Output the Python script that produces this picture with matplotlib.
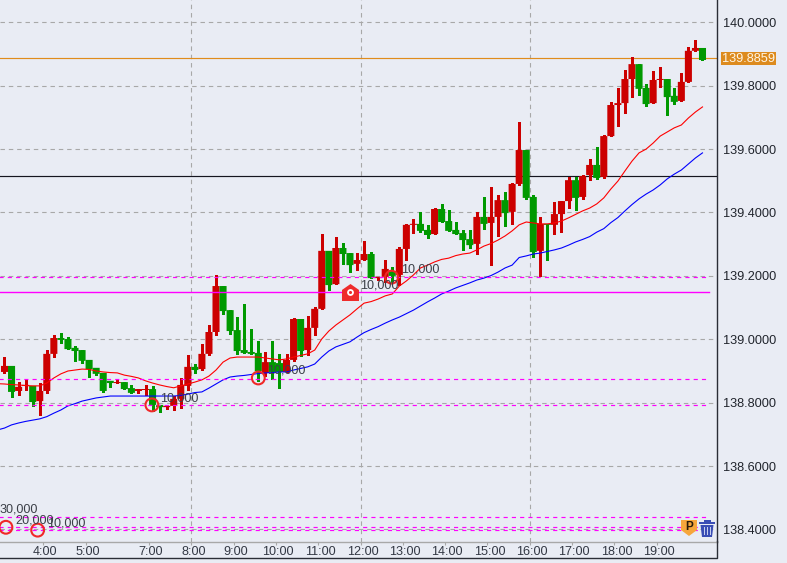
import matplotlib
matplotlib.use("Agg")
import matplotlib.pyplot as plt
import numpy as np
from matplotlib.patches import Polygon, Rectangle

plt.rcParams["font.family"] = ["Liberation Sans", "DejaVu Sans"]

# 10 minute candles, oldest first
opens = [138.897, 138.916, 138.837, 138.853, 138.853, 138.805, 138.837, 138.954, 139.004, 139.001,
         138.973, 138.966, 138.935, 138.910, 138.894, 138.869, 138.862, 138.865, 138.846, 138.837,
         138.840, 138.843, 138.793, 138.786, 138.790, 138.812, 138.853, 138.913, 138.906, 138.954,
         139.023, 139.168, 139.092, 139.029, 138.966, 138.960, 138.957, 138.894, 138.928, 138.925,
         138.897, 138.935, 139.064, 138.966, 139.036, 139.096, 139.279, 139.174, 139.288, 139.272,
         139.238, 139.250, 139.269, 139.193, 139.197, 139.215, 139.203, 139.285, 139.361, 139.364,
         139.345, 139.332, 139.411, 139.373, 139.345, 139.335, 139.316, 139.301, 139.386, 139.367,
         139.386, 139.439, 139.402, 139.490, 139.597, 139.449, 139.279, 139.364, 139.361, 139.395,
         139.436, 139.502, 139.449, 139.518, 139.550, 139.512, 139.641, 139.739, 139.745, 139.821,
         139.868, 139.793, 139.745, 139.818, 139.821, 139.768, 139.752, 139.812, 139.910, 139.919]
highs = [138.944, 138.916, 138.865, 138.872, 138.853, 138.862, 138.966, 139.014, 139.020, 139.007,
         138.979, 138.966, 138.935, 138.910, 138.894, 138.869, 138.872, 138.865, 138.856, 138.843,
         138.856, 138.853, 138.793, 138.793, 138.821, 138.878, 138.950, 138.922, 138.985, 139.045,
         139.203, 139.168, 139.092, 139.070, 139.111, 139.033, 138.995, 138.960, 138.995, 138.954,
         138.954, 139.067, 139.064, 139.073, 139.102, 139.332, 139.279, 139.323, 139.304, 139.272,
         139.272, 139.310, 139.275, 139.197, 139.250, 139.228, 139.291, 139.364, 139.379, 139.402,
         139.361, 139.414, 139.427, 139.408, 139.370, 139.345, 139.345, 139.402, 139.449, 139.480,
         139.455, 139.465, 139.493, 139.685, 139.597, 139.455, 139.386, 139.364, 139.433, 139.436,
         139.512, 139.512, 139.518, 139.569, 139.607, 139.644, 139.749, 139.793, 139.850, 139.891,
         139.868, 139.805, 139.846, 139.859, 139.821, 139.793, 139.840, 139.922, 139.944, 139.919]
lows = [138.894, 138.818, 138.824, 138.840, 138.790, 138.761, 138.831, 138.944, 138.988, 138.969,
        138.932, 138.925, 138.881, 138.887, 138.834, 138.850, 138.862, 138.843, 138.831, 138.831,
        138.824, 138.774, 138.771, 138.780, 138.777, 138.783, 138.840, 138.894, 138.903, 138.950,
        139.014, 139.080, 139.017, 138.954, 138.957, 138.954, 138.869, 138.884, 138.875, 138.846,
        138.897, 138.932, 138.947, 138.950, 139.014, 139.096, 139.155, 139.174, 139.238, 139.212,
        139.219, 139.250, 139.193, 139.187, 139.181, 139.181, 139.171, 139.250, 139.335, 139.338,
        139.320, 139.332, 139.370, 139.342, 139.332, 139.282, 139.288, 139.269, 139.348, 139.234,
        139.326, 139.357, 139.364, 139.487, 139.443, 139.260, 139.200, 139.250, 139.332, 139.338,
        139.414, 139.408, 139.443, 139.502, 139.506, 139.509, 139.641, 139.673, 139.714, 139.764,
        139.771, 139.736, 139.745, 139.796, 139.708, 139.742, 139.752, 139.812, 139.910, 139.881]
closes = [138.916, 138.834, 138.850, 138.856, 138.802, 138.837, 138.954, 139.004, 138.998, 138.969,
          138.963, 138.932, 138.906, 138.891, 138.837, 138.862, 138.865, 138.843, 138.831, 138.843,
          138.843, 138.793, 138.786, 138.790, 138.812, 138.856, 138.913, 138.903, 138.954, 139.023,
          139.168, 139.089, 139.026, 138.963, 138.957, 138.954, 138.900, 138.928, 138.897, 138.897,
          138.935, 139.064, 138.963, 139.036, 139.096, 139.279, 139.171, 139.288, 139.269, 139.234,
          139.250, 139.269, 139.193, 139.197, 139.222, 139.200, 139.285, 139.361, 139.364, 139.342,
          139.329, 139.411, 139.370, 139.342, 139.332, 139.313, 139.297, 139.386, 139.364, 139.386,
          139.439, 139.398, 139.490, 139.597, 139.446, 139.275, 139.364, 139.361, 139.395, 139.436,
          139.502, 139.446, 139.515, 139.550, 139.509, 139.641, 139.739, 139.745, 139.821, 139.868,
          139.790, 139.742, 139.818, 139.821, 139.764, 139.749, 139.812, 139.910, 139.919, 139.881]

# moving averages, they start one candle before the first full candle
ma_fast = [138.860, 138.859, 138.857, 138.856, 138.854, 138.853, 138.853, 138.862, 138.878, 138.891,
           138.900, 138.903, 138.906, 138.905, 138.900, 138.897, 138.895, 138.894, 138.887, 138.883,
           138.878, 138.869, 138.862, 138.856, 138.851, 138.847, 138.853, 138.859, 138.865, 138.872,
           138.884, 138.903, 138.928, 138.941, 138.944, 138.944, 138.944, 138.944, 138.941, 138.938,
           138.935, 138.938, 138.944, 138.949, 138.954, 138.966, 139.001, 139.026, 139.045, 139.061,
           139.077, 139.096, 139.114, 139.119, 139.127, 139.137, 139.143, 139.168, 139.184, 139.203,
           139.225, 139.234, 139.244, 139.252, 139.256, 139.264, 139.269, 139.272, 139.282, 139.294,
           139.302, 139.313, 139.326, 139.342, 139.361, 139.370, 139.367, 139.364, 139.364, 139.367,
           139.373, 139.383, 139.394, 139.405, 139.414, 139.427, 139.446, 139.474, 139.499, 139.531,
           139.562, 139.588, 139.600, 139.619, 139.641, 139.654, 139.667, 139.676, 139.698, 139.717,
           139.733]
ma_slow = [138.714, 138.720, 138.730, 138.736, 138.741, 138.745, 138.749, 138.756, 138.767, 138.777,
           138.790, 138.797, 138.805, 138.810, 138.815, 138.818, 138.821, 138.821, 138.821, 138.821,
           138.821, 138.821, 138.821, 138.821, 138.821, 138.821, 138.823, 138.827, 138.832, 138.834,
           138.846, 138.859, 138.872, 138.881, 138.884, 138.886, 138.889, 138.892, 138.894, 138.895,
           138.897, 138.897, 138.903, 138.908, 138.913, 138.922, 138.944, 138.963, 138.976, 138.984,
           138.992, 139.007, 139.021, 139.031, 139.040, 139.051, 139.061, 139.070, 139.081, 139.092,
           139.105, 139.118, 139.130, 139.143, 139.152, 139.162, 139.170, 139.178, 139.187, 139.193,
           139.201, 139.212, 139.225, 139.234, 139.258, 139.263, 139.269, 139.272, 139.277, 139.282,
           139.288, 139.297, 139.307, 139.315, 139.324, 139.338, 139.349, 139.368, 139.384, 139.405,
           139.425, 139.443, 139.458, 139.471, 139.487, 139.506, 139.521, 139.534, 139.553, 139.572,
           139.588]

hour_pos = [5.5, 11.5, 20.5, 26.5, 32.5, 38.5, 44.5, 50.5, 56.5, 62.5, 68.5, 74.5, 80.5, 86.5, 92.5]
hour_labels = ["4:00", "5:00", "7:00", "8:00", "9:00", "10:00", "11:00", "12:00", "13:00", "14:00",
               "15:00", "16:00", "17:00", "18:00", "19:00"]
day_pos = [26.5, 50.5, 74.5]
price_ticks = [138.4, 138.6, 138.8, 139.0, 139.2, 139.4, 139.6, 139.8, 140.0]

last_price = 139.8859
black_level = 139.5166
pink_solid = 139.148
pink_dashed = [139.196, 138.875, 138.793, 138.438, 138.407, 138.398]

order_pos = [0.2, 4.7, 20.9, 36.0, 54.9]
order_price = [138.407, 138.398, 138.793, 138.878, 139.196]
order_text = [(-0.65, 138.462, "30,000"), (1.5, 138.428, "20,000"), (6.0, 138.418, "10,000"),
              (22.1, 138.814, "10,000"), (37.3, 138.900, "10,000"), (50.4, 139.171, "10,000"),
              (56.3, 139.219, "10,000")]
alert_pos = 49.0

BG = "#E9ECF4"
RED = "#CC0000"
GREEN = "#009900"
GRAY = "#A8A8A8"
PINK = "#FF00FF"
W, H = 787, 563

fig = plt.figure(figsize=(W / 100, H / 100), dpi=100, facecolor=BG)
ax = fig.add_axes([0, (H - 541.7) / H, 717.3 / W, 541.7 / H], facecolor=BG)

opens = np.array(opens)
closes = np.array(closes)
x = np.arange(len(opens))
up = closes >= opens
colors = np.where(up, RED, GREEN)

for level in price_ticks:
    ax.axhline(level, color=GRAY, lw=0.8, ls=(0, (4, 3.5)), zorder=1)
for p in day_pos:
    ax.axvline(p, color=GRAY, lw=0.8, ls=(0, (4, 3.5)), zorder=1)

ax.axhline(last_price, color="#E08C1C", lw=0.85, zorder=2)
ax.axhline(black_level, color="#15151F", lw=0.85, zorder=2)

ax.vlines(x, lows, highs, colors=colors, lw=0.75, zorder=3, antialiased=False)
body = np.abs(closes - opens)
bars = ax.bar(x, np.maximum(body, 0.0032), bottom=np.minimum(opens, closes), width=1.0,
              color=colors, lw=0, zorder=4)
for bar in bars:
    bar.set_snap(False)

ma_x = np.arange(-1, len(ma_fast) - 1)
ax.plot(ma_x, ma_fast, color="#FF0000", lw=0.8, zorder=5)
ax.plot(ma_x, ma_slow, color="#0000FF", lw=0.8, zorder=5)

ax.plot([-1, 99.9], [pink_solid, pink_solid], color=PINK, lw=1.0, zorder=6)
for level in pink_dashed:
    ax.plot([-1, 99.9], [level, level], color=PINK, lw=0.85, ls=(0, (3.5, 3.5)), zorder=6)

ax.scatter(order_pos, order_price, s=85, facecolors="none", edgecolors="#F02828", linewidths=1.5, zorder=7)
for tx, ty, label in order_text:
    ax.text(tx, ty, label, fontsize=9.1, color="#3C4048", va="center", ha="left", zorder=8)

# alert marker on the solid pink line
house = [(-1, -1), (1, -1), (1, 0.3), (0, 1), (-1, 0.3)]
ax.scatter([alert_pos], [pink_solid], marker=house, s=150, color="#EE2B2B", lw=0, zorder=7)
ax.scatter([alert_pos], [pink_solid], s=24, color="white", lw=0, zorder=8)
ax.scatter([alert_pos], [pink_solid], s=5, color="#EE2B2B", lw=0, zorder=9)

ax.set_xlim(-0.638, 101.1)
ax.set_ylim(138.3615, 140.0703)

ax.set_xticks(hour_pos)
ax.set_xticklabels([])
for p, label in zip(hour_pos, hour_labels):
    ax.annotate(label, (p, 0), xycoords=ax.get_xaxis_transform(), xytext=(1.44, -7.4),
                textcoords="offset points", fontsize=9.1, color="#333844", ha="center", va="center",
                annotation_clip=False)
ax.tick_params(axis="x", length=2, width=0.8, color=GRAY)

ax.yaxis.tick_right()
ax.set_yticks(price_ticks)
ax.set_yticklabels([f"{p:.4f}" for p in price_ticks], fontsize=9.2, color="#20242C")
ax.tick_params(axis="y", length=0, pad=4.4)

for side in ["top", "left"]:
    ax.spines[side].set_visible(False)
ax.spines["bottom"].set_color(GRAY)
ax.spines["bottom"].set_linewidth(1.0)
ax.spines["right"].set_color("#2A2D36")
ax.spines["right"].set_linewidth(1.0)

# overlay in pixels for the chart furniture: frame, price tag, icons
ov = fig.add_axes([0, 0, 1, 1], facecolor="none")
ov.set_xlim(0, W)
ov.set_ylim(H, 0)
ov.axis("off")
ov.plot([0, 717.3, 717.3], [558, 558, 541], color="#2A2D36", lw=1.0)
ov.add_patch(Rectangle((721, 52), 54.5, 13, color="#DD8B1E", lw=0))
ov.text(748.2, 58.8, f"{last_price:.4f}", fontsize=9.2, color="#FFF6E6", ha="center", va="center")

ov.add_patch(Polygon([(681, 520), (697, 520), (697, 530), (689, 536), (681, 530)], color="#F6A63C", lw=0))
ov.text(689, 526.5, "P", fontsize=8.5, fontweight="bold", color="#2A1A08", ha="center", va="center")

ov.add_patch(Polygon([(700.5, 525), (713.5, 525), (712, 537), (702, 537)], color="#3A4DB5", lw=0))
ov.add_patch(Rectangle((699, 522), 16, 2.4, color="#3A4DB5", lw=0))
ov.add_patch(Rectangle((703.5, 520), 7, 2.2, color="#3A4DB5", lw=0))
for sx in [704, 707, 710]:
    ov.add_patch(Rectangle((sx, 527), 1, 8, color="#C6CDEE", lw=0))

fig.savefig("out.png", dpi=100, facecolor=BG)
